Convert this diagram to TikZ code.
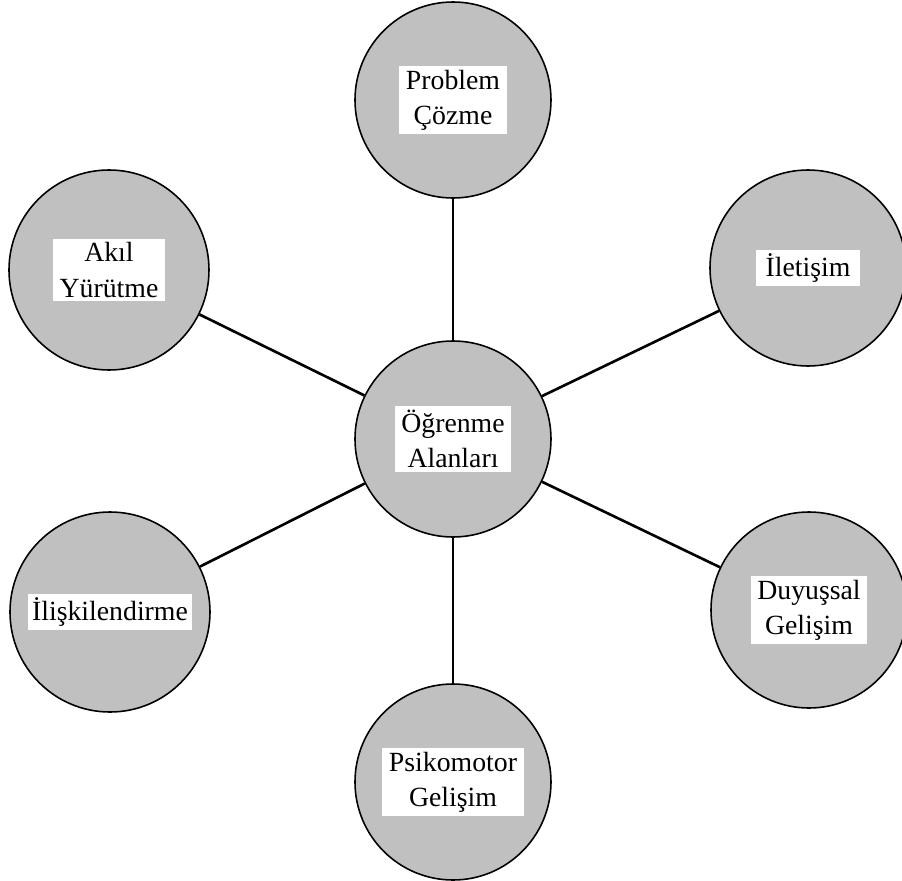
\documentclass[tikz,border=0pt]{standalone}
\usepackage{fontspec}
\setmainfont{Liberation Serif}
\usetikzlibrary{positioning}
\definecolor{bubblegray}{RGB}{192,192,192}
\tikzset{
    bubble/.style={circle, draw=black, line width=0.9pt, fill=bubblegray, minimum size=3.92cm, inner sep=0pt},
    bigbubble/.style={bubble, minimum size=4cm},
    tag/.style={fill=white, align=center, inner xsep=0.13cm, inner ysep=0.08cm, font=\fontsize{15.8}{20}\selectfont},
    link/.style={line width=1.5pt, black}
}

\begin{document}
\begin{tikzpicture}[on grid]
    \useasboundingbox (-9.06,-8.82) rectangle (8.98,8.78);
    \node[bubble] (m) at (0,0) {};
    \node[bubble, above=6.78cm of m] (p) {};
    \node[bubble, below=6.86cm of m] (ps) {};
    \node[bigbubble, above left=3.38cm and 6.88cm of m] (a) {};
    \node[bubble, above right=3.42cm and 7.1cm of m] (i) {};
    \node[bigbubble, below left=3.46cm and 6.86cm of m] (il) {};
    \node[bubble, below right=3.42cm and 7.12cm of m] (d) {};
    \draw[link] (m) -- (p);
    \draw[link] (m) -- (ps);
    \draw[link] (m) -- (a);
    \draw[link] (m) -- (i);
    \draw[link] (m) -- (il);
    \draw[link] (m) -- (d);
    \node[tag] at (m) {Öğrenme\\Alanları};
    \node[tag] at (p) {Problem\\Çözme};
    \node[tag] at (ps) {Psikomotor\\Gelişim};
    \node[tag] at (a) {Akıl\\Yürütme};
    \node[tag, inner xsep=0.2cm] at (i) {İletişim};
    \node[tag, inner xsep=0.08cm] at (il) {İlişkilendirme};
    \node[tag] at (d) {Duyuşsal\\Gelişim};
\end{tikzpicture}
\end{document}
